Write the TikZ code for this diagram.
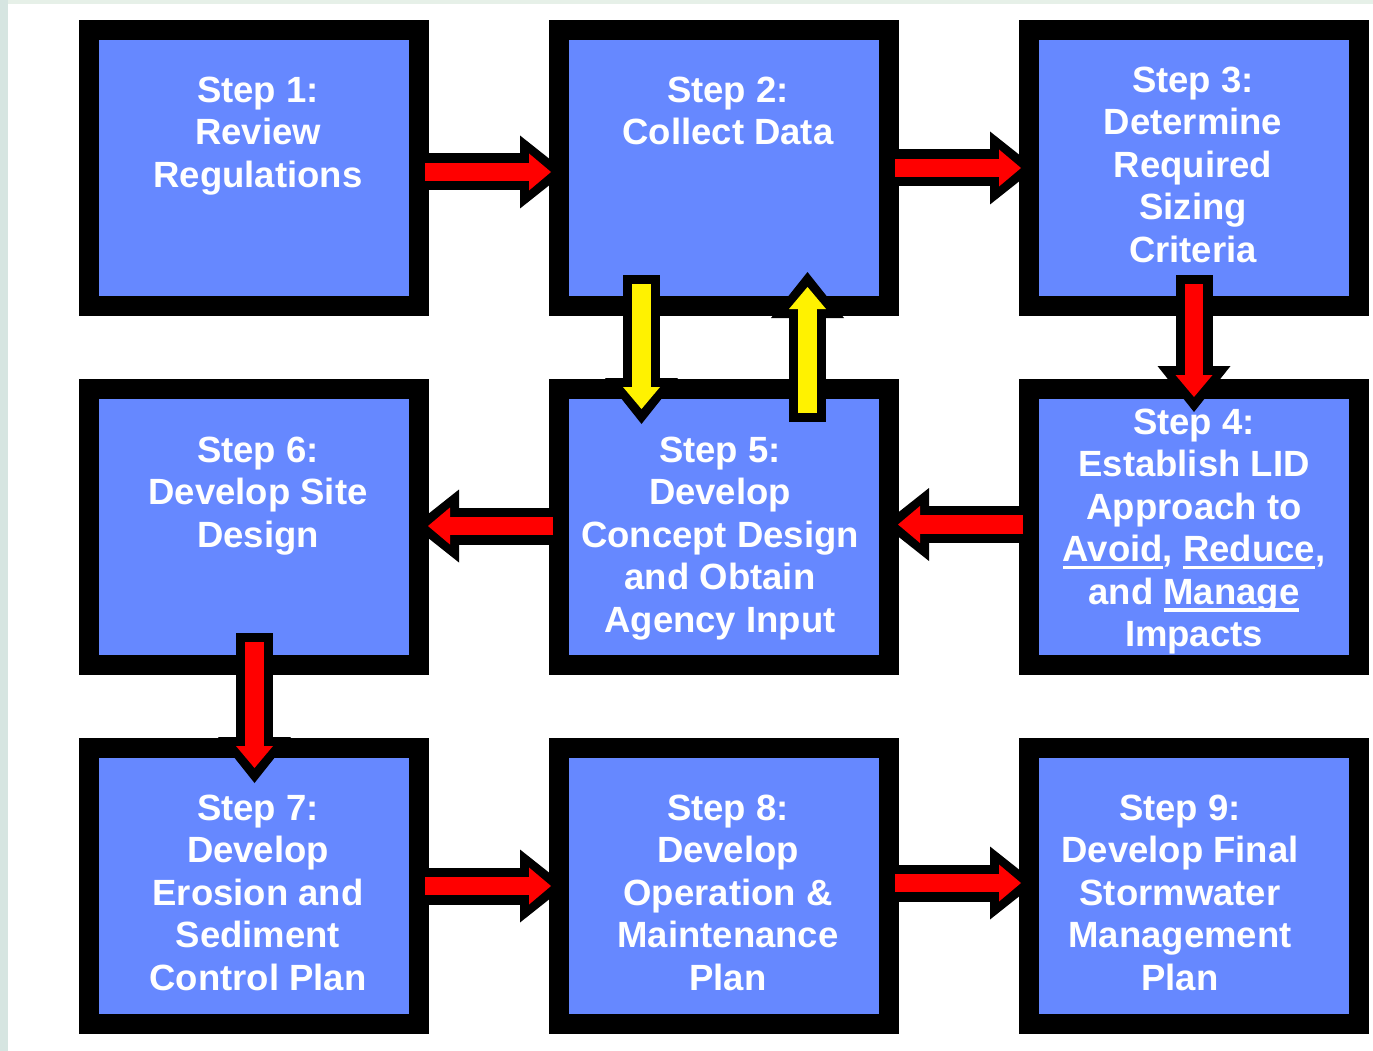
\documentclass[tikz,border=0pt]{standalone}
\usepackage{fontspec}
\setmainfont{Liberation Sans}
\usetikzlibrary{calc,arrows.meta}

\definecolor{stepblue}{HTML}{6688FF}
\definecolor{edgetint}{HTML}{D6E5E1}
\definecolor{toptint}{HTML}{E6F0E8}

% underline set just below the baseline, as in the printed handout
\newcommand\lidul[1]{\setbox0=\hbox{#1}\rlap{\rule[-7.5pt]{\wd0}{3.5pt}}\box0}

\tikzset{
  stepbox/.style={draw=black, line width=20pt, fill=stepblue,
    minimum width=330pt, minimum height=276pt, inner sep=0pt, outer sep=0pt},
  steptext/.style={anchor=north, align=center, text=white, inner sep=0pt,
    font=\fontsize{36.5pt}{42.5pt}\selectfont\bfseries},
  arrowrim/.style={black, line width=37pt,
    -{Triangle[width=73pt 0 0, length=46pt 0 0, line width=0pt 0 0]}},
  arrowcore/.style={#1, line width=18.5pt, shorten <=9pt, shorten >=15pt,
    -{Triangle[width=37pt 0 0, length=22pt 0 0, line width=0pt 0 0]}},
}

\begin{document}
\begin{tikzpicture}[x=1pt, y=-1pt]
  \useasboundingbox (0,0) rectangle (1373,1051);
  \fill[white] (0,0) rectangle (1373,1051);
  \fill[toptint] (0,0) rectangle (1373,4);
  \fill[edgetint] (0,0) rectangle (8,1051);

  % the nine steps
  \node[stepbox] (s1) at (254,168) {};
  \node[stepbox] (s2) at (724,168) {};
  \node[stepbox] (s3) at (1194,168) {};
  \node[stepbox] (s6) at (254,527) {};
  \node[stepbox] (s5) at (724,527) {};
  \node[stepbox] (s4) at (1194,527) {};
  \node[stepbox] (s7) at (254,886) {};
  \node[stepbox] (s8) at (724,886) {};
  \node[stepbox] (s9) at (1194,886) {};

  % arrow ends
  \coordinate (a1t) at ($(s1.east)+(-3,4)$);
  \coordinate (a1h) at ($(s2.west)+(7,4)$);
  \coordinate (a2t) at ($(s2.east)+(-3,0)$);
  \coordinate (a2h) at ($(s3.west)+(7,0)$);
  \coordinate (a3t) at ($(s3.south)+(0,-31)$);
  \coordinate (a3h) at ($(s4.north)+(0,23)$);
  \coordinate (a4t) at ($(s4.west)+(3,-2.5)$);
  \coordinate (a4h) at ($(s5.east)+(-6,-2.5)$);
  \coordinate (a5t) at ($(s5.west)+(3,-1)$);
  \coordinate (a5h) at ($(s6.east)+(-6,-1)$);
  \coordinate (a6t) at ($(s6.south)+(0.5,-32)$);
  \coordinate (a6h) at ($(s7.north)+(0.5,35)$);
  \coordinate (ydt) at ($(s2.south)+(-82.5,-31)$);
  \coordinate (ydh) at ($(s5.north)+(-82.5,35)$);
  \coordinate (yut) at ($(s5.north)+(83.5,33)$);
  \coordinate (yuh) at ($(s2.south)+(83.5,-34)$);
  \coordinate (a7t) at ($(s7.east)+(-3,0)$);
  \coordinate (a7h) at ($(s8.west)+(7,0)$);
  \coordinate (a8t) at ($(s8.east)+(-3,-3)$);
  \coordinate (a8h) at ($(s9.west)+(7,-3)$);

  % block arrows: black rim, coloured core
  \foreach \t/\h/\c in {a1t/a1h/red, a2t/a2h/red, a3t/a3h/red, a4t/a4h/red,
      a5t/a5h/red, a6t/a6h/red, ydt/ydh/yellow, yut/yuh/yellow,
      a7t/a7h/red, a8t/a8h/red}{
    \draw[arrowrim] (\t) -- (\h);
    \draw[arrowcore=\c] (\t) -- (\h);
  }

  % step texts
  \node[steptext] (t1) at ($(s1.north)+(4,46.5)$) {Step 1:\\Review\\Regulations};
  \node[steptext] (t2) at ($(s2.north)+(4,46.5)$) {Step 2:\\Collect Data};
  \node[steptext] (t3) at ($(s3.north)+(-1,36.5)$) {Step 3:\\Determine\\Required\\Sizing\\Criteria};
  \node[steptext] (t6) at ($(s6.north)+(4,47.5)$) {Step 6:\\Develop Site\\Design};
  \node[steptext] (t5) at ($(s5.north)+(-4,47.5)$) {Step 5:\\Develop\\Concept Design\\and Obtain\\Agency Input};
  \node[steptext] (t4) at ($(s4.north)+(0,19.5)$) {Step 4:\\Establish LID\\Approach to\\\lidul{Avoid}, \lidul{Reduce},\\and \lidul{Manage}\\Impacts};
  \node[steptext] (t7) at ($(s7.north)+(4,46.5)$) {Step 7:\\Develop\\Erosion and\\Sediment\\Control Plan};
  \node[steptext] (t8) at ($(s8.north)+(4,46.5)$) {Step 8:\\Develop\\Operation \&\\Maintenance\\Plan};
  \node[steptext] (t9) at ($(s9.north)+(-14,46.5)$) {Step 9:\\Develop Final\\Stormwater\\Management\\Plan};
\end{tikzpicture}
\end{document}
